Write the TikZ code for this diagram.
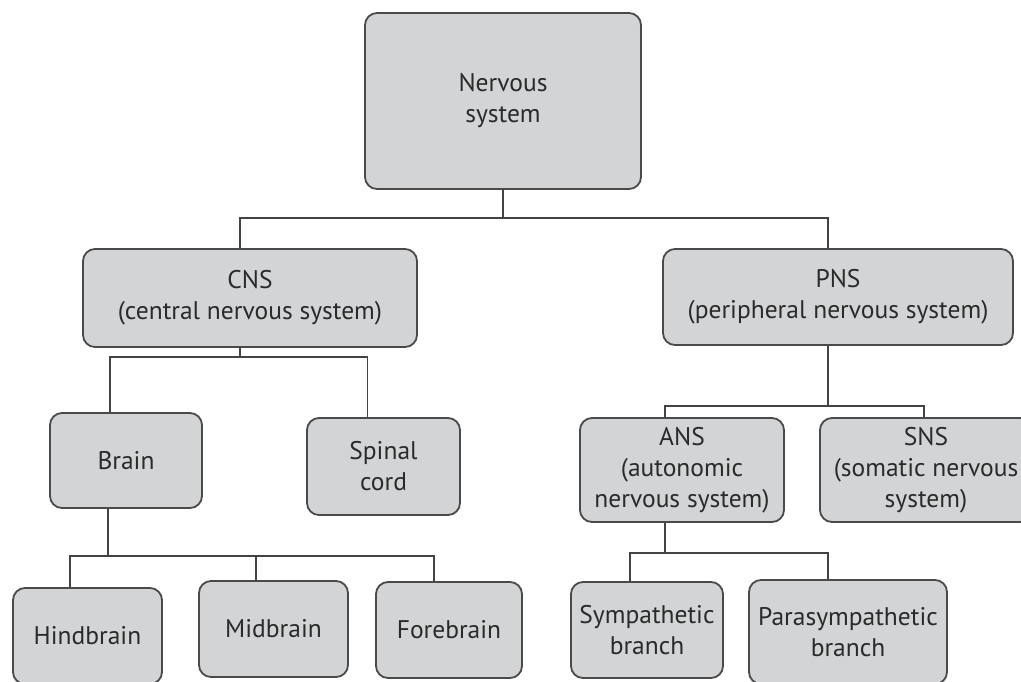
\documentclass[tikz,border=0pt]{standalone}
\usepackage{fontspec}
\setmainfont{PT Sans}
\definecolor{boxfill}{HTML}{D3D4D6}
\definecolor{boxline}{HTML}{4A4A4A}
\definecolor{txt}{HTML}{2A2A2A}
\tikzset{
  box/.style={draw=boxline, line width=1.8pt, fill=boxfill, rounded corners=12pt,
    align=center, text=txt, inner sep=0pt,
    font=\fontsize{25.5}{31}\selectfont},
  conn/.style={draw=boxline!90!black, line width=1.5pt}
}
\begin{document}
\begin{tikzpicture}[x=1pt,y=-1pt]
\path[use as bounding box, clip] (0,0) rectangle (1021,681);
\fill[white] (0,0) rectangle (1021,681);

\node[box, minimum width=276pt, minimum height=176pt] (nervous) at (503,101) {Nervous\\system};
\node[box, minimum width=334pt, minimum height=98pt] (cns) at (250,298) {CNS\\(central nervous system)};
\node[box, minimum width=350pt, minimum height=96pt] (pns) at (838,297) {PNS\\(peripheral nervous system)};
\node[box, minimum width=152pt, minimum height=95pt] (brain) at (126,460.5) {Brain};
\node[box, minimum width=153pt, minimum height=97pt] (spinal) at (383.5,466.5) {Spinal\\cord};
\node[box, minimum width=204pt, minimum height=104pt] (ans) at (682,470) {ANS\\(autonomic\\nervous system)};
\node[box, minimum width=212pt, minimum height=104pt] (sns) at (926,470) {SNS\\(somatic nervous\\system)};
\node[box, minimum width=149pt, minimum height=96pt] (hind) at (87.5,636) {Hindbrain};
\node[box, minimum width=149pt, minimum height=96pt] (mid) at (273.5,629) {Midbrain};
\node[box, minimum width=146pt, minimum height=96pt] (fore) at (449,630) {Forebrain};
\node[box, minimum width=152pt, minimum height=96pt] (symp) at (647,630) {Sympathetic\\branch};
\node[box, minimum width=198pt, minimum height=104pt] (para) at (848,632) {Parasympathetic\\branch};

\coordinate (b1) at (503,218);
\coordinate (b2) at (240,357);
\coordinate (b3) at (828,406);
\coordinate (b4) at (108,556);
\coordinate (b5) at (665,553);

\draw[conn] (nervous.south) -- (b1);
\draw[conn] ([xshift=-10pt]cns.north) |- (b1) -| ([xshift=-10pt]pns.north);

\draw[conn] ([xshift=-10pt]cns.south) -- (b2);
\draw[conn] ([xshift=-16pt]brain.north) |- (b2) -| ([xshift=-16pt]spinal.north);

\draw[conn] ([xshift=-10pt]pns.south) -- (b3);
\draw[conn] ([xshift=-17pt]ans.north) |- (b3) -| ([xshift=-2pt]sns.north);

\draw[conn] ([xshift=-18pt]brain.south) -- (b4);
\draw[conn] ([xshift=-17.5pt]hind.north) |- (b4) -| ([xshift=-15pt]fore.north);
\draw[conn] ([xshift=-17.5pt]mid.north) |- (b4);

\draw[conn] ([xshift=-17pt]ans.south) -- (b5);
\draw[conn] ([xshift=-17pt]symp.north) |- (b5) -| ([xshift=-20pt]para.north);
\end{tikzpicture}
\end{document}
